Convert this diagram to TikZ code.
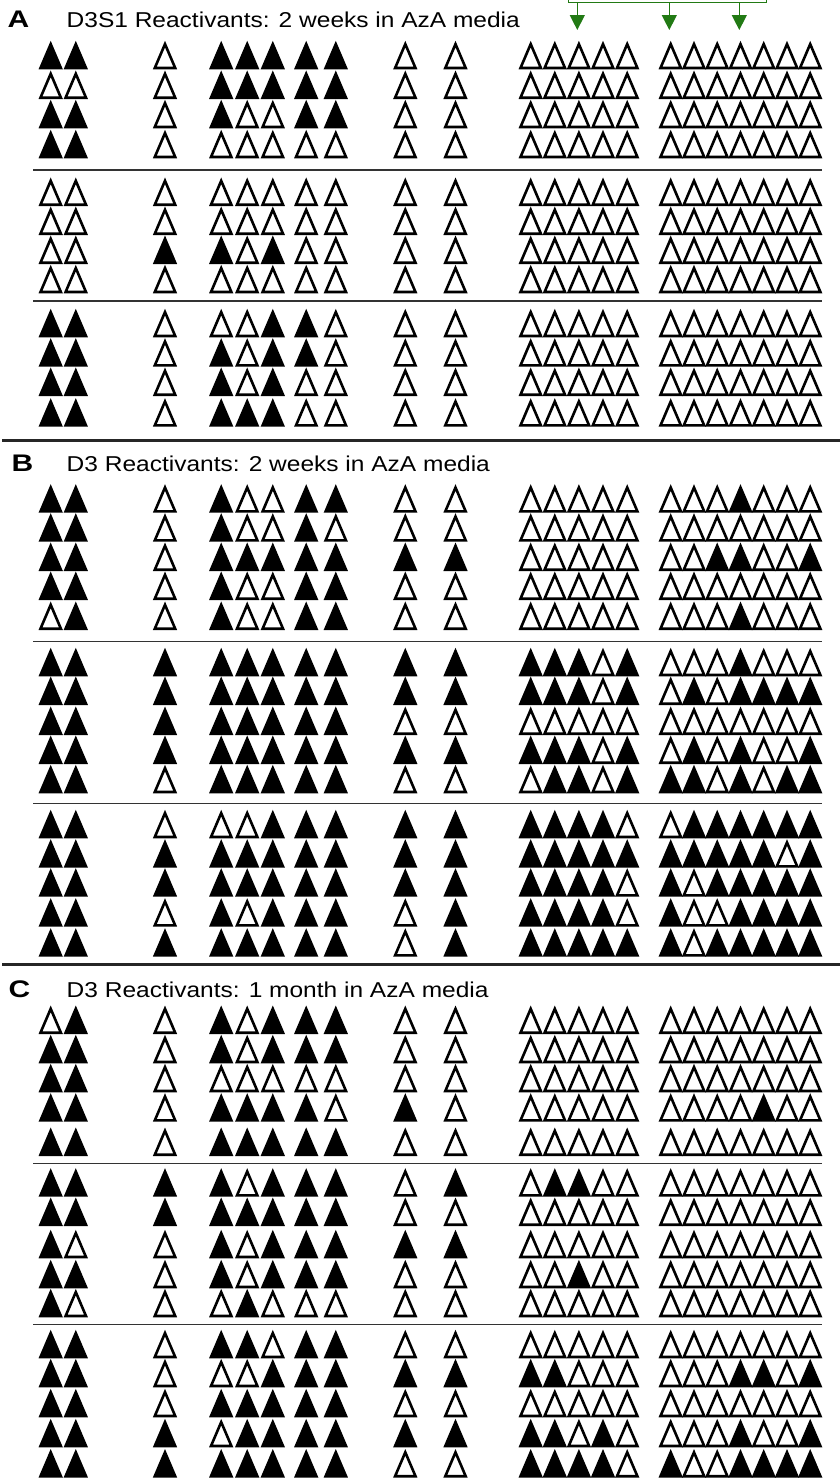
\documentclass[tikz,border=0pt]{standalone}
\usepackage{fontspec}
\setmainfont{Liberation Sans}
\usetikzlibrary{arrows.meta}
\definecolor{brgreen}{RGB}{34,122,20}
\def\xarr{{50.7,75.8,165,221.2,247.2,272.8,306.2,335.8,405.3,455.5,530.7,554.8,578.9,603,627.2,670.7,694,717.2,740.5,763.7,787,810.2}}
\newcommand\trirow[2]{%
  \foreach \bt [count=\ci from 0] in {#2} {%
    \pgfmathsetmacro\xx{\xarr[\ci]}%
    \ifnum\bt=1 \path[filltri] (\xx-10.2,#1-1.3) -- (\xx,#1-25.2) -- (\xx+10.2,#1-1.3) -- cycle;%
    \else \path[opentri] (\xx-10.2,#1-1.3) -- (\xx,#1-25.2) -- (\xx+10.2,#1-1.3) -- cycle;%
    \fi
  }}
\newcommand\ttl[1]{\scalebox{1.14}[1]{\fontsize{21.5}{21.5}\selectfont #1}}
\newcommand\tag[1]{\scalebox{1.25}[1]{\fontsize{24}{24}\selectfont\bfseries #1}}
\begin{document}
\begin{tikzpicture}[x=1pt,y=-1pt,
  opentri/.style={draw=black, fill=white, line width=2.6pt, line join=miter},
  filltri/.style={draw=black, fill=black, line width=2.6pt, line join=miter},
  sepline/.style={draw=black!80, line width=1.5pt},
  thickline/.style={draw=black!85, line width=3pt},
  lbl/.style={anchor=base west, inner sep=0pt},
  bracket/.style={draw=brgreen, line width=1.4pt},
  greenarrow/.style={draw=brgreen, line width=1.4pt, -{Triangle[width=15pt,length=15pt]}}]
\useasboundingbox (0,0) rectangle (840,1478);
% green bracket
\coordinate (bl) at (568.3,-5);
\coordinate (br) at (766.7,-5);
\coordinate (b1) at (568.3,2.5);
\coordinate (b2) at (766.7,2.5);
\draw[bracket] (bl) -- (b1) -- (b2) -- (br);
\coordinate (s1) at (577.3,2.5); \coordinate (t1) at (577.3,30);
\coordinate (s2) at (669.3,2.5); \coordinate (t2) at (669.3,30);
\coordinate (s3) at (739.3,2.5); \coordinate (t3) at (739.3,30);
\draw[greenarrow] (s1) -- (t1);
\draw[greenarrow] (s2) -- (t2);
\draw[greenarrow] (s3) -- (t3);
% titles
\node[lbl] (tagA) at (7.5,27.5) {\tag{A}};
\node[lbl] (ttlA) at (66.5,27.5) {\ttl{D3S1 Reactivants: 2 weeks in AzA media}};
\node[lbl] (tagB) at (11.5,471.5) {\tag{B}};
\node[lbl] (ttlB) at (66.5,471.5) {\ttl{D3 Reactivants: 2 weeks in AzA media}};
\node[lbl] (tagC) at (8.5,997.5) {\tag{C}};
\node[lbl] (ttlC) at (66.5,997.5) {\ttl{D3 Reactivants: 1 month in AzA media}};
% separators
\draw[sepline] (33,170) -- (822,170);
\draw[sepline] (33,301) -- (822,301);
\draw[thickline] (2,440) -- (840,440);
\draw[sepline] (33,641.7) -- (822,641.7);
\draw[sepline] (33,803.3) -- (822,803.3);
\draw[thickline] (2,964.3) -- (840,964.3);
\draw[sepline] (33,1163.3) -- (822,1163.3);
\draw[sepline] (33,1324.3) -- (822,1324.3);
% Panel A
\trirow{69.3}{1,1,0,1,1,1,1,1,0,0,0,0,0,0,0,0,0,0,0,0,0,0}
\trirow{99}{0,0,0,1,1,1,1,1,0,0,0,0,0,0,0,0,0,0,0,0,0,0}
\trirow{128.3}{1,1,0,1,0,0,1,1,0,0,0,0,0,0,0,0,0,0,0,0,0,0}
\trirow{158.3}{1,1,0,0,0,0,0,0,0,0,0,0,0,0,0,0,0,0,0,0,0,0}
\trirow{206}{0,0,0,0,0,0,0,0,0,0,0,0,0,0,0,0,0,0,0,0,0,0}
\trirow{235}{0,0,0,0,0,0,0,0,0,0,0,0,0,0,0,0,0,0,0,0,0,0}
\trirow{264}{0,0,1,1,0,1,0,0,0,0,0,0,0,0,0,0,0,0,0,0,0,0}
\trirow{293.3}{0,0,0,0,0,0,0,0,0,0,0,0,0,0,0,0,0,0,0,0,0,0}
\trirow{337.3}{1,1,0,0,0,1,1,0,0,0,0,0,0,0,0,0,0,0,0,0,0,0}
\trirow{366.7}{1,1,0,1,0,1,1,0,0,0,0,0,0,0,0,0,0,0,0,0,0,0}
\trirow{396}{1,1,0,1,0,1,0,0,0,0,0,0,0,0,0,0,0,0,0,0,0,0}
\trirow{426.7}{1,1,0,1,1,1,0,0,0,0,0,0,0,0,0,0,0,0,0,0,0,0}
% Panel B
\trirow{512.7}{1,1,0,1,0,0,1,1,0,0,0,0,0,0,0,0,0,0,1,0,0,0}
\trirow{541.7}{1,1,0,1,0,0,1,0,0,0,0,0,0,0,0,0,0,0,0,0,0,0}
\trirow{571}{1,1,0,1,1,1,1,1,1,1,0,0,0,0,0,0,0,1,1,0,0,1}
\trirow{600}{1,1,0,1,0,0,1,1,0,0,0,0,0,0,0,0,0,0,0,0,0,0}
\trirow{630}{0,1,0,1,0,0,1,1,0,0,0,0,0,0,0,0,0,0,1,0,0,0}
\trirow{676.3}{1,1,1,1,1,1,1,1,1,1,1,1,1,0,1,0,0,0,1,0,0,0}
\trirow{705}{1,1,1,1,1,1,1,1,1,1,1,1,1,0,1,0,1,0,1,1,1,1}
\trirow{735}{1,1,1,1,1,1,1,1,0,0,0,0,0,0,0,0,0,0,0,0,0,0}
\trirow{764}{1,1,1,1,1,1,1,1,1,1,1,1,1,0,1,0,1,0,1,0,0,1}
\trirow{793.3}{1,1,0,1,1,1,1,1,0,0,0,1,1,0,1,1,1,0,1,0,1,1}
\trirow{838.3}{1,1,0,0,0,1,1,1,1,1,1,1,1,1,0,0,1,1,1,1,1,1}
\trirow{867.7}{1,1,1,1,1,1,1,1,1,1,1,1,1,1,1,1,1,1,1,1,0,1}
\trirow{896.7}{1,1,1,1,1,1,1,1,1,1,1,1,1,1,0,1,0,1,1,1,1,1}
\trirow{926.7}{1,1,0,1,0,1,1,1,0,1,1,1,1,1,0,1,0,0,1,1,1,1}
\trirow{956.7}{1,1,1,1,1,1,1,1,0,1,1,1,1,1,1,1,0,1,1,1,1,1}
% Panel C
\trirow{1034}{0,1,0,1,0,1,1,1,0,0,0,0,0,0,0,0,0,0,0,0,0,0}
\trirow{1063.3}{1,1,0,1,0,1,1,1,0,0,0,0,0,0,0,0,0,0,0,0,0,0}
\trirow{1092.3}{1,1,0,0,0,0,0,0,0,0,0,0,0,0,0,0,0,0,0,0,0,0}
\trirow{1121.7}{1,1,0,1,1,1,1,0,1,0,0,0,0,0,0,0,0,0,0,1,0,0}
\trirow{1156}{1,1,0,1,1,1,1,1,0,0,0,0,0,0,0,0,0,0,0,0,0,0}
\trirow{1196.7}{1,1,1,1,0,1,1,1,0,1,0,1,1,0,0,0,0,0,0,0,0,0}
\trirow{1226}{1,1,1,1,1,1,1,1,0,0,0,0,0,0,0,0,0,0,0,0,0,0}
\trirow{1258.3}{1,0,0,1,0,1,1,1,1,1,0,0,0,0,0,0,0,0,0,0,0,0}
\trirow{1288.3}{1,1,0,1,0,1,1,1,0,0,0,0,1,0,0,0,0,0,0,0,0,0}
\trirow{1317.3}{1,0,0,0,1,0,0,0,0,0,0,0,0,0,0,0,0,0,0,0,0,0}
\trirow{1358.3}{1,1,0,1,1,0,1,1,0,0,0,0,0,0,0,0,0,0,0,0,0,0}
\trirow{1387.3}{1,1,0,0,0,1,1,1,1,1,1,1,0,0,0,0,0,0,1,1,0,1}
\trirow{1417.3}{1,1,0,1,1,1,1,1,0,0,0,0,0,0,0,0,0,0,0,0,0,0}
\trirow{1447.3}{1,1,1,0,1,1,1,1,1,1,1,1,0,1,0,0,0,0,1,0,0,1}
\trirow{1477.5}{1,1,1,1,1,1,1,1,0,0,1,1,1,1,0,1,0,0,1,1,1,1}
\end{tikzpicture}
\end{document}
